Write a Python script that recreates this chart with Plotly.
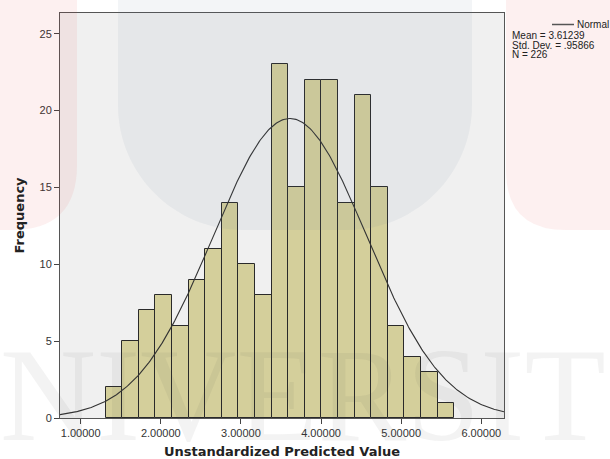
import numpy as np
import plotly.graph_objects as go

# Histogram data
counts = [2, 5, 7, 8, 6, 9, 11, 14, 10, 8, 23, 15, 22, 22, 14, 21, 15, 6, 4, 3, 1]
bin_start = 1.311
bin_width = 0.2072

# Normal curve statistics
mean = 3.61239
std = 0.95866
n_total = 226

x_ticks = [1, 2, 3, 4, 5, 6]
x_tick_labels = ["1.00000", "2.00000", "3.00000", "4.00000", "5.00000", "6.00000"]
y_ticks = [0, 5, 10, 15, 20, 25]

x_range = [0.742, 6.284]
y_range = [0, 26.35]

centers = [bin_start + bin_width * (i + 0.5) for i in range(len(counts))]

xc = np.linspace(x_range[0], x_range[1], 400)
yc = n_total * bin_width * np.exp(-0.5 * ((xc - mean) / std) ** 2) / (std * np.sqrt(2 * np.pi))

# page layout (body margin removed via post_script)
W, H = 610, 459
ML, MR, MT, MB = 60, 106, 13, 41
PL, PR = ML, W - MR       # plot left/right in page px
PT, PB = MT, H - MB       # plot top/bottom in page px


def px(x):
    return (x - PL) / (PR - PL)


def py(y):
    return (PB - y) / (PB - PT)


def path(points):
    parts = []
    for cmd, *xy in points:
        if cmd == "Z":
            parts.append("Z")
        else:
            coords = " ".join(f"{px(xy[i]):.4f},{py(xy[i + 1]):.4f}" for i in range(0, len(xy), 2))
            parts.append(f"{cmd}{coords}")
    return " ".join(parts)


fig = go.Figure()
fig.add_trace(go.Bar(
    x=centers, y=counts, width=bin_width,
    marker=dict(color="rgb(212,207,155)", line=dict(color="#2a2a2a", width=1)),
    showlegend=False, hoverinfo="x+y",
))
fig.add_trace(go.Scatter(
    x=xc, y=yc, mode="lines", line=dict(color="#333333", width=1.1),
    showlegend=False, name="Normal",
))

font = "Liberation Sans, Arial, sans-serif"
bold_font = "DejaVu Sans, Verdana, sans-serif"

pink = "rgba(225,60,60,0.075)"
blue = "rgba(90,120,150,0.075)"

shapes = [
    dict(type="rect", xref="x domain", yref="y domain", x0=0, x1=1, y0=0, y1=1,
         fillcolor="#f0f0f0", line=dict(width=0), layer="below"),
    # watermark (university logo)
    dict(type="path", xref="paper", yref="paper", layer="above", line=dict(width=0), fillcolor=pink,
         path=path([("M", -5, -5), ("L", 77, -5), ("L", 77, 165), ("Q", 77, 230, 12, 230), ("L", -5, 230), ("Z",)])),
    dict(type="path", xref="paper", yref="paper", layer="above", line=dict(width=0), fillcolor=blue,
         path=path([("M", 118, -5), ("L", 118, 105), ("C", 118, 174, 174, 230, 243, 230), ("L", 347, 230),
                    ("C", 416, 230, 472, 174, 472, 105), ("L", 472, -5), ("Z",)])),
    dict(type="path", xref="paper", yref="paper", layer="above", line=dict(width=0), fillcolor=pink,
         path=path([("M", 506, -5), ("L", 506, 170), ("Q", 506, 230, 566, 230), ("L", 615, 230), ("L", 615, -5), ("Z",)])),
    # legend line sample
    dict(type="line", xref="paper", yref="paper", x0=px(552), x1=px(574), y0=py(24.5), y1=py(24.5),
         line=dict(color="#555", width=1.5), layer="above"),
]

annotations = [
    dict(xref="paper", yref="paper", x=px(-2), y=py(395), text="NIVERSITI", showarrow=False,
         xanchor="left", yanchor="middle",
         font=dict(family="Liberation Serif, Times New Roman, serif", size=133, color="rgba(70,70,70,0.065)")),
    dict(xref="paper", yref="paper", x=px(575), y=py(24.5), text="Normal", showarrow=False,
         xanchor="left", yanchor="middle", font=dict(family=font, size=10, color="#222")),
    dict(xref="paper", yref="paper", x=px(510), y=py(35), text="Mean = 3.61239", showarrow=False,
         xanchor="left", yanchor="middle", font=dict(family=font, size=10, color="#222")),
    dict(xref="paper", yref="paper", x=px(510), y=py(45), text="Std. Dev. = .95866", showarrow=False,
         xanchor="left", yanchor="middle", font=dict(family=font, size=10, color="#222")),
    dict(xref="paper", yref="paper", x=px(510), y=py(54.5), text="N = 226", showarrow=False,
         xanchor="left", yanchor="middle", font=dict(family=font, size=10, color="#222")),
    dict(xref="paper", yref="paper", x=px((PL + PR) / 2), y=py(451), text="<b>Unstandardized Predicted Value</b>",
         showarrow=False, xanchor="center", yanchor="middle", font=dict(family=bold_font, size=13, color="#222")),
    dict(xref="paper", yref="paper", x=px(19), y=py((PT + PB) / 2), text="<b>Frequency</b>", textangle=-90,
         showarrow=False, xanchor="center", yanchor="middle", font=dict(family=bold_font, size=13, color="#222")),
]

fig.update_layout(
    width=W, height=H,
    margin=dict(l=ML, r=MR, t=MT, b=MB),
    paper_bgcolor="white",
    plot_bgcolor="rgba(0,0,0,0)",
    bargap=0,
    font=dict(family=font, size=11, color="#333333"),
    xaxis=dict(
        range=x_range, tickvals=x_ticks, ticktext=x_tick_labels,
        ticks="outside", ticklen=5, tickcolor="#444", showgrid=False, zeroline=False,
        showline=True, linecolor="#555", linewidth=1, mirror=True,
        tickfont=dict(size=11, color="#333"),
    ),
    yaxis=dict(
        range=y_range, tickvals=y_ticks,
        ticks="outside", ticklen=5, tickcolor="#444", showgrid=False, zeroline=False,
        showline=True, linecolor="#555", linewidth=1, mirror=True,
        tickfont=dict(size=11, color="#333"),
    ),
    shapes=shapes,
    annotations=annotations,
)

fig.write_html(
    "out.html",
    config={"displayModeBar": False},
    post_script="document.body.style.margin='0';document.body.style.overflow='hidden';",
)
